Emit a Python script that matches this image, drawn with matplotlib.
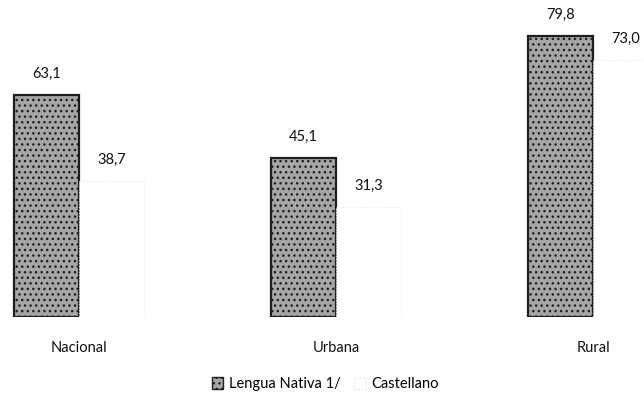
import numpy as np
import matplotlib.pyplot as plt
from matplotlib.patches import Patch

categories = ['Nacional', 'Urbana', 'Rural']
lengua_nativa = [63.1, 45.1, 79.8]
castellano = [38.7, 31.3, 73.0]
series_names = ['Lengua Nativa 1/', 'Castellano']

plt.rcParams['font.family'] = ['Lato', 'DejaVu Sans']

fig = plt.figure(figsize=(6.44, 4.03), dpi=100)
ax = fig.add_axes([0, 86 / 403, 1, 317 / 403])

x = np.arange(len(categories))
w = 0.253

b1 = ax.bar(x - w / 2, lengua_nativa, w, color='#a6a6a6', edgecolor='#1e1e1e',
            linewidth=1.6, hatch='...')
b2 = ax.bar(x + w / 2, castellano, w, color='white', edgecolor='#e6e6e6',
            linewidth=0.8, linestyle=':')

for bars, vals in [(b1, lengua_nativa), (b2, castellano)]:
    for r, v in zip(bars, vals):
        ax.annotate(f'{v:.1f}'.replace('.', ','),
                    (r.get_x() + r.get_width() / 2, v),
                    xytext=(0, 15), textcoords='offset points',
                    ha='center', va='center', fontsize=10.5, color='#111')

ax.set_xlim(-0.307, 2.198)
ax.set_ylim(0, 90)
ax.set_xticks(x)
ax.set_xticklabels(categories, fontsize=10.5, color='#111')
ax.tick_params(axis='x', length=0, pad=17)
ax.set_yticks([])
for s in ax.spines.values():
    s.set_visible(False)

handles = [Patch(facecolor='#a6a6a6', edgecolor='#1e1e1e', hatch='...'),
           Patch(facecolor='white', edgecolor='#e6e6e6', linestyle=':')]
fig.legend(handles, series_names, loc='center', bbox_to_anchor=(0.505, 1 - 384 / 403),
           ncol=2, frameon=False, fontsize=10.5, handlelength=0.8, handleheight=0.8,
           handletextpad=0.4, columnspacing=0.9)

plt.savefig('out.png', dpi=100)
